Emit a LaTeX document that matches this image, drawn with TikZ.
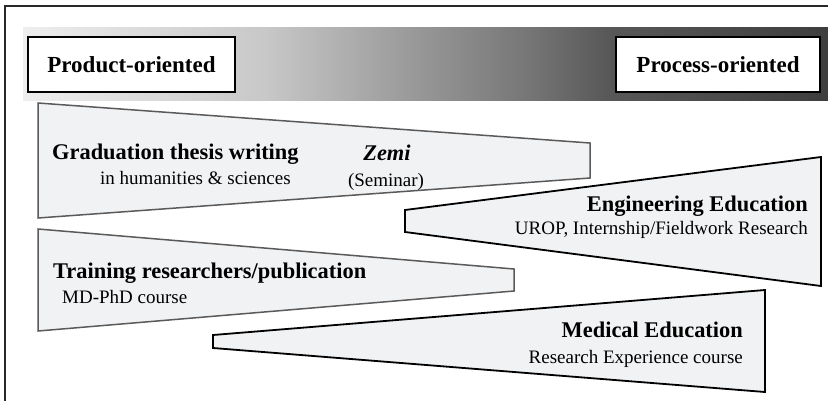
\documentclass[tikz,border=0pt]{standalone}
\usepackage{fontspec}
\setmainfont{Liberation Serif}
\definecolor{gA}{RGB}{238,238,238}
\definecolor{gB}{RGB}{200,200,200}
\definecolor{gC}{RGB}{150,150,150}
\definecolor{gD}{RGB}{118,118,118}
\definecolor{gE}{RGB}{88,88,88}
\definecolor{gF}{RGB}{62,62,62}
\pgfdeclarehorizontalshading{bandshade}{100bp}{color(0bp)=(gA); color(25bp)=(gA); color(40bp)=(gB); color(49.8bp)=(gC); color(56.4bp)=(gD); color(61.3bp)=(gE); color(75bp)=(gF); color(100bp)=(gF)}
\definecolor{shapefill}{RGB}{241,242,244}
\definecolor{grayline}{RGB}{90,90,90}
\definecolor{framecol}{RGB}{40,40,40}
\tikzset{
  headbox/.style={draw=black, line width=2pt, fill=white},
  headtext/.style={font=\fontsize{23}{27}\selectfont\bfseries, inner sep=0pt},
  graywedge/.style={draw=grayline, line width=1.5pt, fill=shapefill, line join=miter},
  blackwedge/.style={draw=black, line width=1.8pt, fill=shapefill, line join=miter},
  boldtxt/.style={font=\fontsize{22.4}{26}\selectfont\bfseries, inner sep=0pt},
  regtxt/.style={font=\fontsize{19}{23}\selectfont, inner sep=0pt}
}
\begin{document}
\begin{tikzpicture}[x=1pt,y=-1pt]
\useasboundingbox (0,0) rectangle (828,400);
\fill[white] (0,0) rectangle (828,400);
% outer frame
\draw[framecol, line width=2pt] (5,420) -- (5,6) -- (850,6);
% gradient band
\shade[shading=bandshade] (23,27) rectangle (828,100);
% header boxes
\draw[headbox] (28,37) rectangle (235,92);
\node[headtext] (prod) at (131.5,64.5) {Product-oriented};
\draw[headbox] (616,37) rectangle (820,92);
\node[headtext] (proc) at (718,64.5) {Process-oriented};
% wedge 1: graduation thesis
\draw[graywedge] (38,103) -- (590,143) -- (590,178) -- (38,218) -- cycle;
\node[boldtxt, anchor=base west] (grad) at (52,159) {Graduation thesis writing};
\node[regtxt, anchor=base west] (hum) at (100,184) {in humanities \& sciences};
\node[boldtxt, anchor=base] (zemi) at (387,160) {\itshape Zemi};
\node[regtxt, anchor=base] (sem) at (386,186) {(Seminar)};
% wedge 2: engineering
\draw[blackwedge] (405,210) -- (821,157) -- (821,286) -- (405,232) -- cycle;
\node[boldtxt, anchor=base east] (eng) at (808,211) {Engineering Education};
\node[regtxt, anchor=base east] (urop) at (808,234) {UROP, Internship/Fieldwork Research};
% wedge 3: training researchers
\draw[graywedge] (38,229) -- (514,269) -- (514,291) -- (38,331) -- cycle;
\node[boldtxt, anchor=base west] (train) at (53,278) {Training researchers/publication};
\node[regtxt, anchor=base west] (mdphd) at (62,303) {MD-PhD course};
% wedge 4: medical
\draw[blackwedge] (213,335) -- (765,290) -- (765,392) -- (213,348) -- cycle;
\node[boldtxt, anchor=base east] (med) at (743,337) {Medical Education};
\node[regtxt, anchor=base east] (rec) at (743,363) {Research Experience course};
\end{tikzpicture}
\end{document}
